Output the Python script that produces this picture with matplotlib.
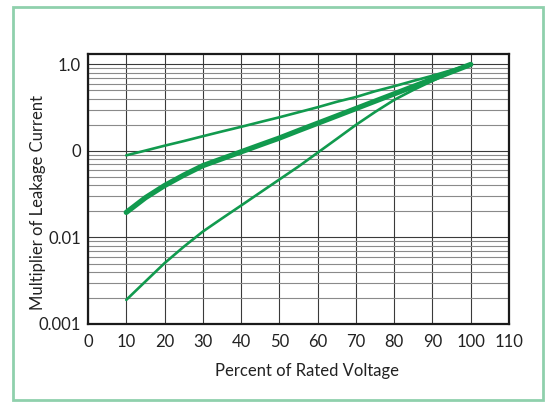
import matplotlib.pyplot as plt
from matplotlib.patches import Rectangle
from matplotlib.ticker import LogLocator, NullFormatter, FixedLocator, FixedFormatter

plt.rcParams['font.family'] = ['Lato', 'DejaVu Sans']

# percent of rated voltage
voltage = [10, 15, 20, 25, 30, 35, 40, 45, 50, 55,
           60, 65, 70, 75, 80, 85, 90, 95, 100]
# multiplier of leakage current
upper = [0.089, 0.101, 0.115, 0.130, 0.148, 0.168, 0.19, 0.216, 0.245, 0.28,
         0.32, 0.37, 0.42, 0.49, 0.56, 0.645, 0.74, 0.86, 1.0]
middle = [0.0195, 0.0288, 0.0398, 0.0525, 0.0676, 0.0813, 0.0977, 0.1175, 0.141, 0.172,
          0.209, 0.254, 0.309, 0.376, 0.457, 0.556, 0.676, 0.822, 1.0]
lower = [0.0019, 0.0031, 0.00505, 0.0078, 0.0117, 0.0166, 0.0234, 0.0331, 0.0468, 0.0661,
         0.0955, 0.138, 0.200, 0.282, 0.389, 0.507, 0.646, 0.813, 1.0]

x_ticks = [0, 10, 20, 30, 40, 50, 60, 70, 80, 90, 100, 110]
y_ticks = [0.001, 0.01, 0.1, 1.0]
y_labels = ["0.001", "0.01", "0", "1.0"]

GREEN = "#119a4e"

fig = plt.figure(figsize=(5.47, 4.04), dpi=100)
fig.patches.append(Rectangle((13 / 547, 4 / 404), 530 / 547, 393 / 404,
                             transform=fig.transFigure, fill=False,
                             edgecolor="#8fd0ac", linewidth=2))

ax = fig.add_axes([88 / 547, 80 / 404, 421 / 547, 270 / 404])
ax.plot(voltage, upper, color=GREEN, linewidth=1.9, solid_capstyle="round")
ax.plot(voltage, middle, color=GREEN, linewidth=3.8, solid_capstyle="round")
ax.plot(voltage, lower, color=GREEN, linewidth=1.9, solid_capstyle="round")

ax.set_yscale("log")
ax.set_xlim(0, 110)
ax.set_ylim(0.001, 1.32)

ax.xaxis.set_major_locator(FixedLocator(x_ticks))
ax.yaxis.set_major_locator(FixedLocator(y_ticks))
ax.yaxis.set_major_formatter(FixedFormatter(y_labels))
ax.yaxis.set_minor_locator(LogLocator(base=10, subs=range(2, 10)))
ax.yaxis.set_minor_formatter(NullFormatter())

ax.grid(True, which="major", color="#3a3a3a", linewidth=0.8)
ax.grid(True, which="minor", axis="y", color="#8a8a8a", linewidth=0.8)
ax.set_axisbelow(True)

ax.tick_params(which="both", length=0, labelsize=12, colors="#222222")
ax.tick_params(axis="x", pad=7)
ax.tick_params(axis="y", pad=5)

for s in ax.spines.values():
    s.set_linewidth(1.6)
    s.set_color("#1a1a1a")

ax.set_xlabel("Percent of Rated Voltage", fontsize=12, color="#222222")
ax.xaxis.set_label_coords(0.52, -0.145)
ax.set_ylabel("Multiplier of Leakage Current", fontsize=12, color="#222222")
ax.yaxis.set_label_coords(-0.10, 0.45)

fig.savefig("out.png", dpi=100)
